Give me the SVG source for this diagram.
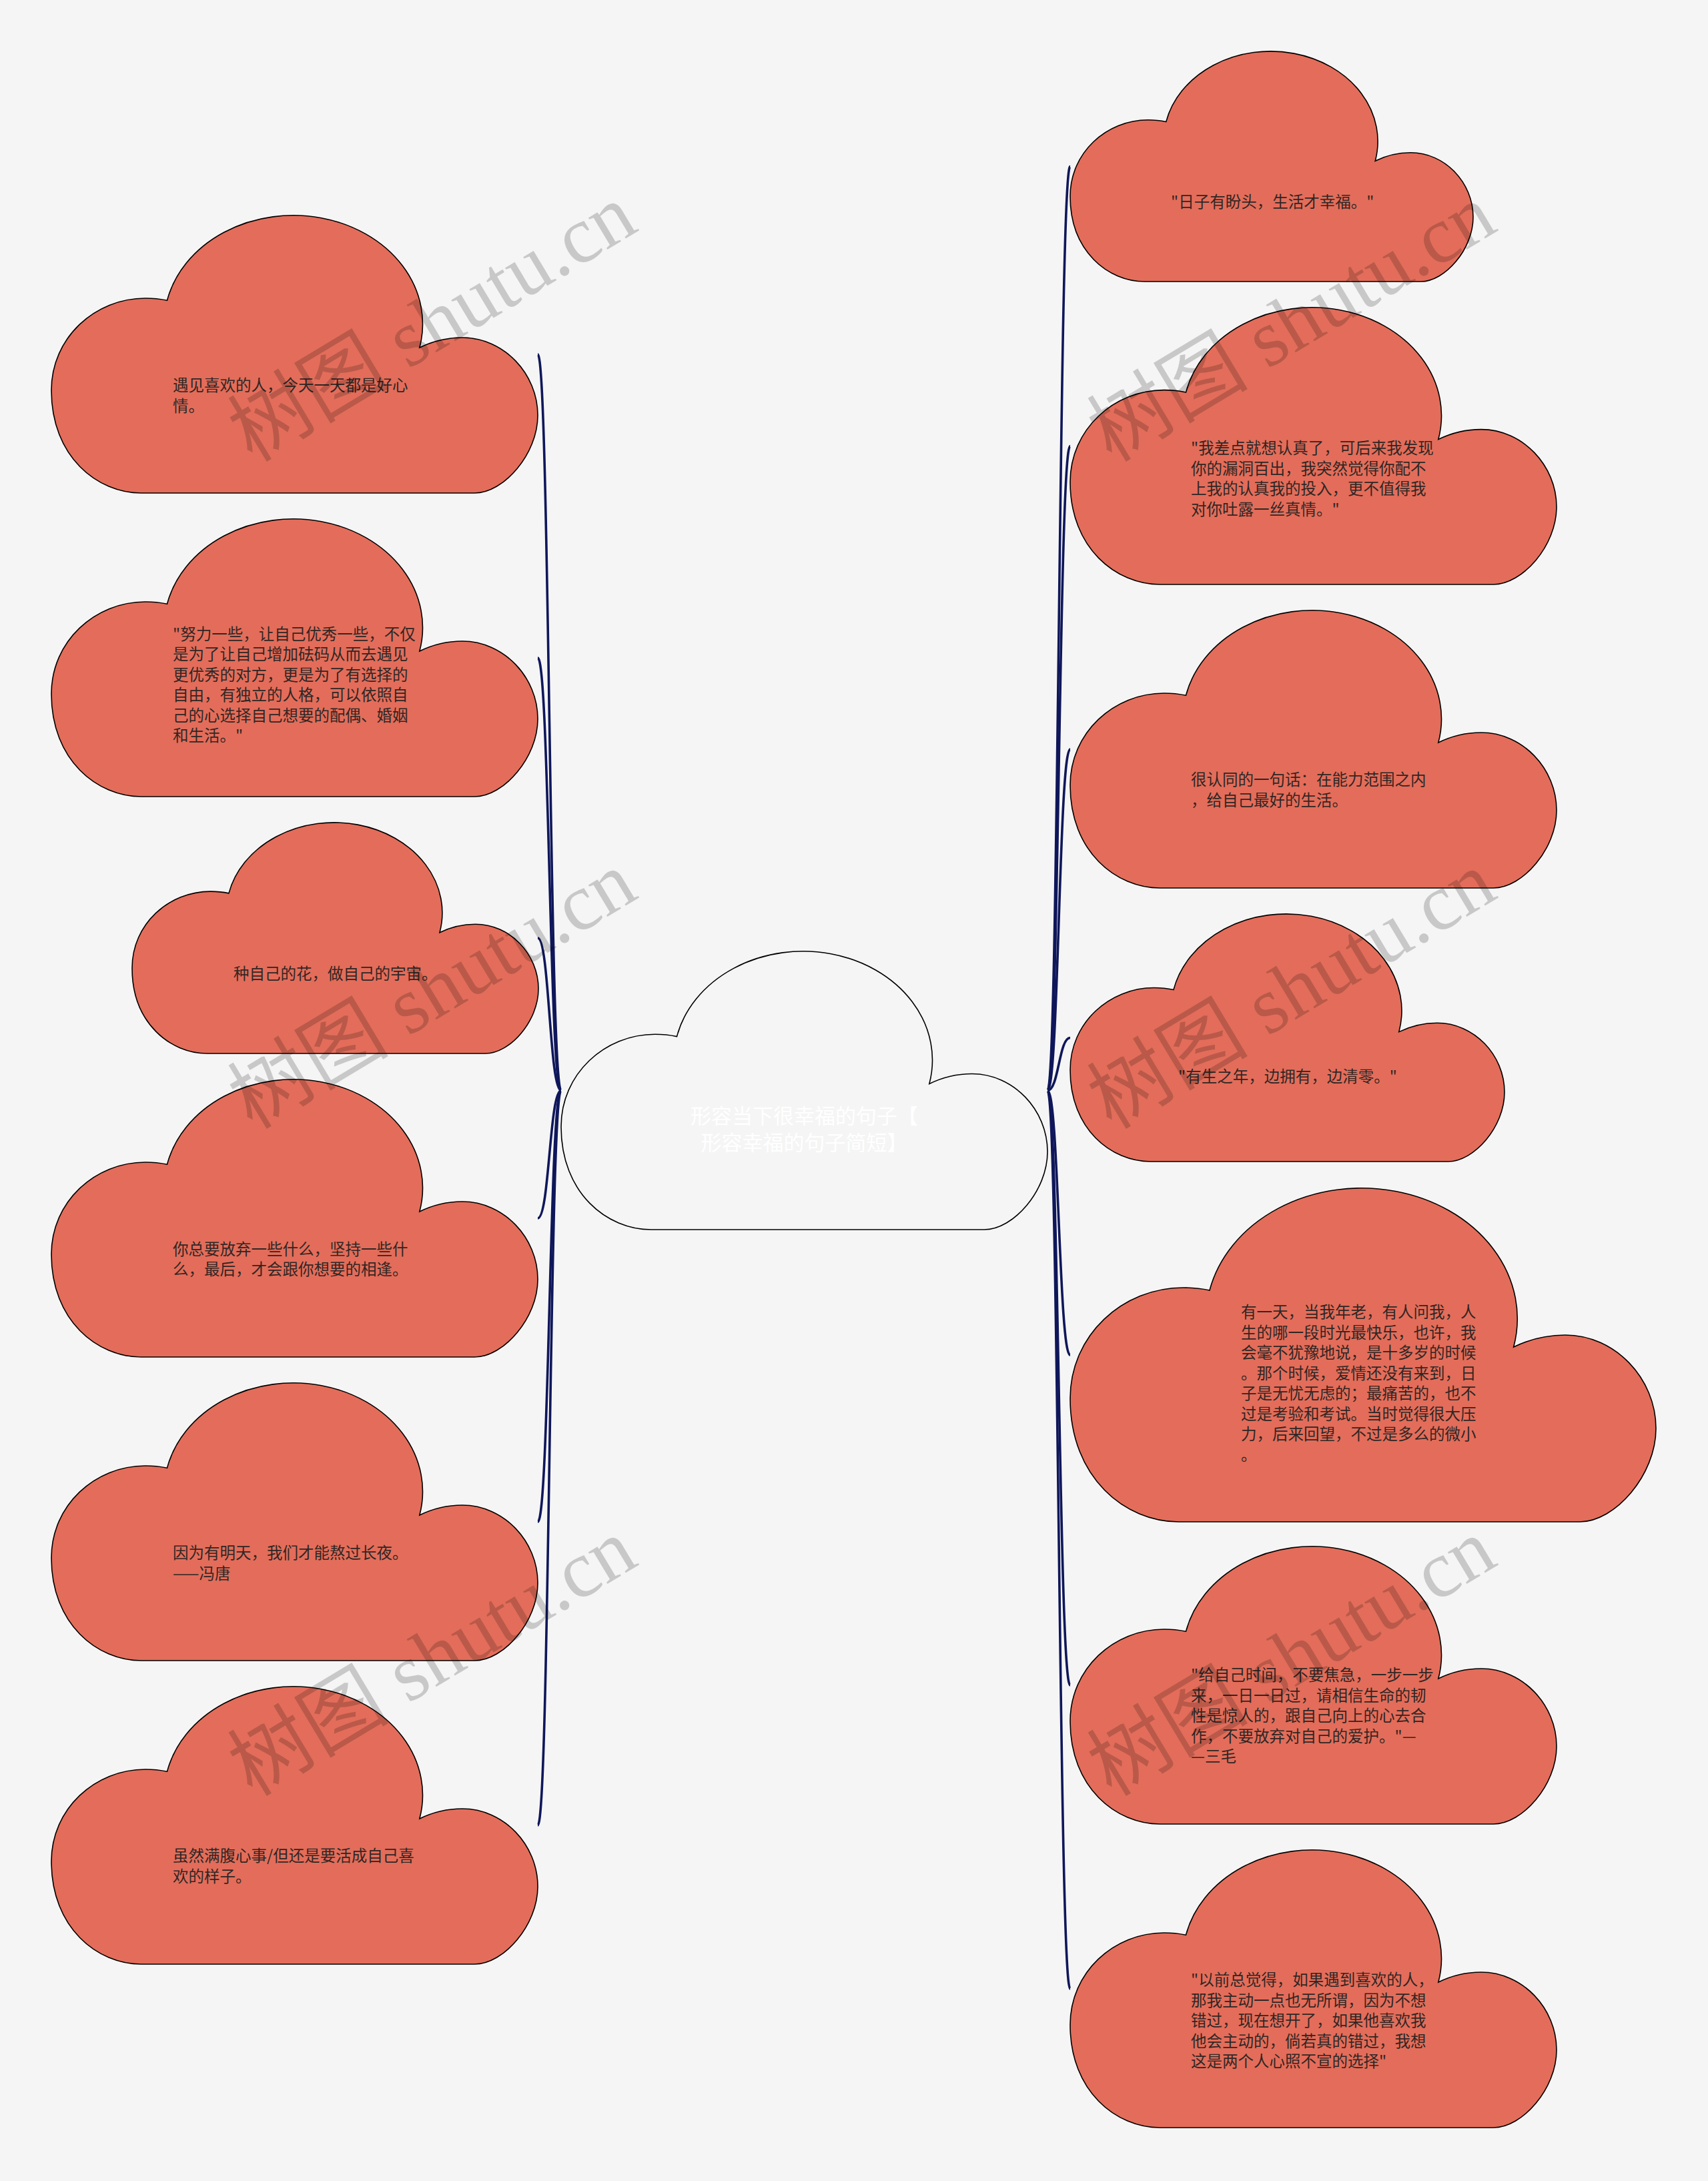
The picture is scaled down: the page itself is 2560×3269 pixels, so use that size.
<svg xmlns="http://www.w3.org/2000/svg" xmlns:xlink="http://www.w3.org/1999/xlink" width="2560" height="3269" viewBox="0 0 2560 3269">
<style>
.cl{stroke:#000;stroke-width:1.6}
.leaf{fill:#e36d5a}
.root{fill:#f5f5f5}
.t{font-family:"Noto Sans CJK SC","Noto Sans",sans-serif;font-size:23.5px;fill:#302624}
.rt{font-family:"Noto Sans CJK SC","Noto Sans",sans-serif;font-size:31px;fill:#ffffff;text-anchor:middle}
.ln{fill:none;stroke:#0f175a;stroke-width:3.6}
.wm{font-family:"Liberation Serif","Noto Sans CJK SC",serif;font-size:121px;fill:#000;fill-opacity:0.18}
</style>
<defs>
<path id="cloud" vector-effect="non-scaling-stroke" d="M185,1000 C95,1000 0,870 0,630 C0,440 90,298 193,298 C210,298 225,301 238,306 A265,390 0 1,1 757,476 C785,452 812,440 845,440 C930,440 1000,570 1000,720 C1000,860 930,1000 870,1000 Z"/>
</defs>
<rect x="0" y="0" width="2560" height="3269" fill="#f5f5f5"/>
<g id="connectors">
<path class="ln" d="M841,1634.5 C823.5,1634.5 823.5,531 806,531"/>
<path class="ln" d="M841,1634.5 C823.5,1634.5 823.5,986 806,986"/>
<path class="ln" d="M841,1634.5 C823.5,1634.5 823.5,1406 806,1406"/>
<path class="ln" d="M841,1634.5 C823.5,1634.5 823.5,1826 806,1826"/>
<path class="ln" d="M841,1634.5 C823.5,1634.5 823.5,2281 806,2281"/>
<path class="ln" d="M841,1634.5 C823.5,1634.5 823.5,2736 806,2736"/>
<path class="ln" d="M1570,1634.5 C1587,1634.5 1587,249.5 1604,249.5"/>
<path class="ln" d="M1570,1634.5 C1587,1634.5 1587,668.5 1604,668.5"/>
<path class="ln" d="M1570,1634.5 C1587,1634.5 1587,1123 1604,1123"/>
<path class="ln" d="M1570,1634.5 C1587,1634.5 1587,1555.5 1604,1555.5"/>
<path class="ln" d="M1570,1634.5 C1587,1634.5 1587,2031 1604,2031"/>
<path class="ln" d="M1570,1634.5 C1587,1634.5 1587,2526 1604,2526"/>
<path class="ln" d="M1570,1634.5 C1587,1634.5 1587,2981 1604,2981"/>
</g>
<g id="root">
<use xlink:href="#cloud" href="#cloud" class="cl root" transform="translate(841,1426) scale(0.729,0.417)"/>
<text class="rt"><tspan x="1205.5" y="1683.5">形容当下很幸福的句子【</tspan><tspan x="1205.5" y="1723.5">形容幸福的句子简短】</tspan></text>
</g>
<g id="L1">
<use xlink:href="#cloud" href="#cloud" class="cl leaf" transform="translate(77,323) scale(0.729,0.416)"/>
<text class="t"><tspan x="259" y="586.2">遇见喜欢的人，今天一天都是好心</tspan><tspan x="259" y="616.7">情。</tspan></text>
</g>
<g id="L2">
<use xlink:href="#cloud" href="#cloud" class="cl leaf" transform="translate(77,778) scale(0.729,0.416)"/>
<text class="t"><tspan x="259" y="958.7">"努力一些，让自己优秀一些，不仅</tspan><tspan x="259" y="989.2">是为了让自己增加砝码从而去遇见</tspan><tspan x="259" y="1019.7">更优秀的对方，更是为了有选择的</tspan><tspan x="259" y="1050.2">自由，有独立的人格，可以依照自</tspan><tspan x="259" y="1080.7">己的心选择自己想要的配偶、婚姻</tspan><tspan x="259" y="1111.2">和生活。"</tspan></text>
</g>
<g id="L3">
<use xlink:href="#cloud" href="#cloud" class="cl leaf" transform="translate(198,1233) scale(0.609,0.346)"/>
<text class="t"><tspan x="350" y="1468">种自己的花，做自己的宇宙。</tspan></text>
</g>
<g id="L4">
<use xlink:href="#cloud" href="#cloud" class="cl leaf" transform="translate(77,1618) scale(0.729,0.416)"/>
<text class="t"><tspan x="259" y="1880.7">你总要放弃一些什么，坚持一些什</tspan><tspan x="259" y="1911.2">么，最后，才会跟你想要的相逢。</tspan></text>
</g>
<g id="L5">
<use xlink:href="#cloud" href="#cloud" class="cl leaf" transform="translate(77,2073) scale(0.729,0.416)"/>
<text class="t"><tspan x="259" y="2336.4">因为有明天，我们才能熬过长夜。</tspan><tspan x="259" y="2366.9">——冯唐</tspan></text>
</g>
<g id="L6">
<use xlink:href="#cloud" href="#cloud" class="cl leaf" transform="translate(77,2528) scale(0.729,0.416)"/>
<text class="t"><tspan x="259" y="2790">虽然满腹心事/但还是要活成自己喜</tspan><tspan x="259" y="2820.5">欢的样子。</tspan></text>
</g>
<g id="R1">
<use xlink:href="#cloud" href="#cloud" class="cl leaf" transform="translate(1604,77) scale(0.604,0.345)"/>
<text class="t"><tspan x="1755" y="310.6">"日子有盼头，生活才幸福。"</tspan></text>
</g>
<g id="R2">
<use xlink:href="#cloud" href="#cloud" class="cl leaf" transform="translate(1604,461) scale(0.729,0.415)"/>
<text class="t"><tspan x="1785" y="680">"我差点就想认真了，可后来我发现</tspan><tspan x="1785" y="710.5">你的漏洞百出，我突然觉得你配不</tspan><tspan x="1785" y="741">上我的认真我的投入，更不值得我</tspan><tspan x="1785" y="771.5">对你吐露一丝真情。"</tspan></text>
</g>
<g id="R3">
<use xlink:href="#cloud" href="#cloud" class="cl leaf" transform="translate(1604,915) scale(0.729,0.416)"/>
<text class="t"><tspan x="1785" y="1177">很认同的一句话：在能力范围之内</tspan><tspan x="1785" y="1207.5">，给自己最好的生活。</tspan></text>
</g>
<g id="R4">
<use xlink:href="#cloud" href="#cloud" class="cl leaf" transform="translate(1604,1370) scale(0.651,0.371)"/>
<text class="t"><tspan x="1766" y="1622">"有生之年，边拥有，边清零。"</tspan></text>
</g>
<g id="R5">
<use xlink:href="#cloud" href="#cloud" class="cl leaf" transform="translate(1604,1781) scale(0.878,0.5)"/>
<text class="t"><tspan x="1860" y="1975.4">有一天，当我年老，有人问我，人</tspan><tspan x="1860" y="2005.9">生的哪一段时光最快乐，也许，我</tspan><tspan x="1860" y="2036.4">会毫不犹豫地说，是十多岁的时候</tspan><tspan x="1860" y="2066.9">。那个时候，爱情还没有来到，日</tspan><tspan x="1860" y="2097.4">子是无忧无虑的；最痛苦的，也不</tspan><tspan x="1860" y="2127.9">过是考验和考试。当时觉得很大压</tspan><tspan x="1860" y="2158.4">力，后来回望，不过是多么的微小</tspan><tspan x="1860" y="2188.9">。</tspan></text>
</g>
<g id="R6">
<use xlink:href="#cloud" href="#cloud" class="cl leaf" transform="translate(1604,2318) scale(0.729,0.416)"/>
<text class="t"><tspan x="1785" y="2519">"给自己时间，不要焦急，一步一步</tspan><tspan x="1785" y="2549.5">来，一日一日过，请相信生命的韧</tspan><tspan x="1785" y="2580">性是惊人的，跟自己向上的心去合</tspan><tspan x="1785" y="2610.5">作，不要放弃对自己的爱护。"—</tspan><tspan x="1785" y="2641">—三毛</tspan></text>
</g>
<g id="R7">
<use xlink:href="#cloud" href="#cloud" class="cl leaf" transform="translate(1604,2773) scale(0.729,0.416)"/>
<text class="t"><tspan x="1785" y="2976">"以前总觉得，如果遇到喜欢的人，</tspan><tspan x="1785" y="3006.5">那我主动一点也无所谓，因为不想</tspan><tspan x="1785" y="3037">错过，现在想开了，如果他喜欢我</tspan><tspan x="1785" y="3067.5">他会主动的，倘若真的错过，我想</tspan><tspan x="1785" y="3098">这是两个人心照不宣的选择"</tspan></text>
</g>
<g id="watermark">
<text class="wm" transform="translate(378,694) rotate(-31)">树图 shutu.cn</text>
<text class="wm" transform="translate(378,1694) rotate(-31)">树图 shutu.cn</text>
<text class="wm" transform="translate(378,2694) rotate(-31)">树图 shutu.cn</text>
<text class="wm" transform="translate(1666,694) rotate(-31)">树图 shutu.cn</text>
<text class="wm" transform="translate(1666,1694) rotate(-31)">树图 shutu.cn</text>
<text class="wm" transform="translate(1666,2694) rotate(-31)">树图 shutu.cn</text>
</g>
</svg>
